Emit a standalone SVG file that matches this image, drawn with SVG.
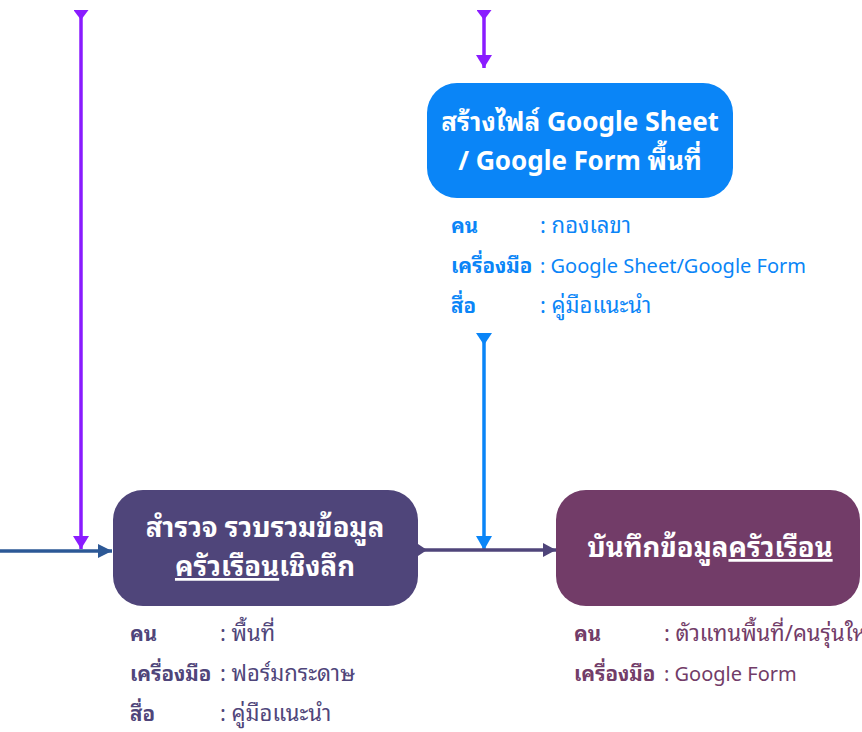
<svg xmlns="http://www.w3.org/2000/svg" width="862" height="732" viewBox="0 0 862 732">
<style>
text{font-family:"Noto Sans Thai Looped","Noto Sans Thai","Noto Sans","DejaVu Sans",sans-serif}
.title{font-size:26px;font-weight:bold;fill:#ffffff;text-anchor:middle}
.th{font-size:27.5px}
.lbl{font-size:20.5px;font-weight:bold}
.val{font-size:20px}
.vth{font-size:22px}
.u{text-decoration:underline}
.blue{fill:#0A85F7}
.plum{fill:#4F457A}
.wine{fill:#723C68}
</style>
<defs>
<marker id="endV" viewBox="0 -8 13 16" markerWidth="13" markerHeight="16" refX="13" refY="0" orient="auto" markerUnits="userSpaceOnUse"><path d="M0,-8 L13,0 L0,8 Z" fill="#8A1CFF"/></marker>
<marker id="startV" viewBox="0 -7.5 10 15" markerWidth="10" markerHeight="15" refX="0" refY="0" orient="auto" markerUnits="userSpaceOnUse"><path d="M0,-7.5 L10,0 L0,7.5 Z" fill="#8A1CFF"/></marker>
<marker id="endB" viewBox="0 -8 14 16" markerWidth="14" markerHeight="16" refX="14" refY="0" orient="auto" markerUnits="userSpaceOnUse"><path d="M0,-8 L14,0 L0,8 Z" fill="#0A85F7"/></marker>
<marker id="startB" viewBox="0 -8 12 16" markerWidth="12" markerHeight="16" refX="0" refY="0" orient="auto" markerUnits="userSpaceOnUse"><path d="M0,-8 L12,0 L0,8 Z" fill="#0A85F7"/></marker>
<marker id="endN" viewBox="0 -7 14 14" markerWidth="14" markerHeight="14" refX="14" refY="0" orient="auto" markerUnits="userSpaceOnUse"><path d="M0,-7 L14,0 L0,7 Z" fill="#2C5896"/></marker>
<marker id="endP" viewBox="0 -7 13 14" markerWidth="13" markerHeight="14" refX="13" refY="0" orient="auto" markerUnits="userSpaceOnUse"><path d="M0,-7 L13,0 L0,7 Z" fill="#4F457A"/></marker>
<marker id="startP" viewBox="0 -6 9 12" markerWidth="9" markerHeight="12" refX="0" refY="0" orient="auto" markerUnits="userSpaceOnUse"><path d="M0,-6 L9,0 L0,6 Z" fill="#4F457A"/></marker>
</defs>

<g id="connectors" fill="none">
<path d="M81,10 L81,549" stroke="#8A1CFF" stroke-width="3.5" marker-start="url(#startV)" marker-end="url(#endV)"/>
<path d="M484,10 L484,68" stroke="#8A1CFF" stroke-width="3.5" marker-start="url(#startV)" marker-end="url(#endV)"/>
<path d="M484,333 L484,550" stroke="#0A85F7" stroke-width="3.5" marker-start="url(#startB)" marker-end="url(#endB)"/>
<path d="M0,551 L112,551" stroke="#2C5896" stroke-width="3.5" marker-end="url(#endN)"/>
<path d="M418,550 L556,550" stroke="#4F457A" stroke-width="3.5" marker-start="url(#startP)" marker-end="url(#endP)"/>
</g>

<g id="node-create-file">
<rect x="427" y="83" width="306" height="115" rx="30" fill="#0A85F7"/>
<text class="title" x="580" y="131">สร้างไฟล์ Google Sheet</text>
<text class="title" x="580" y="170">/ Google Form พื้นที่</text>
<text class="lbl blue" x="451" y="233">คน</text>
<text class="val vth blue" x="540" y="233">: กองเลขา</text>
<text class="lbl blue" x="451" y="273">เครื่องมือ</text>
<text class="val blue" x="540" y="273">: Google Sheet/Google Form</text>
<text class="lbl blue" x="451" y="313">สื่อ</text>
<text class="val vth blue" x="540" y="313">: คู่มือแนะนำ</text>
</g>

<g id="node-survey">
<rect x="113" y="490" width="305" height="116" rx="30" fill="#4F457A"/>
<text class="title th" x="265" y="537">สำรวจ รวบรวมข้อมูล</text>
<text class="title th" x="265" y="576"><tspan class="u">ครัวเรือน</tspan>เชิงลึก</text>
<text class="lbl plum" x="130" y="641">คน</text>
<text class="val vth plum" x="220" y="641">: พื้นที่</text>
<text class="lbl plum" x="130" y="681">เครื่องมือ</text>
<text class="val vth plum" x="220" y="681">: ฟอร์มกระดาษ</text>
<text class="lbl plum" x="130" y="721">สื่อ</text>
<text class="val vth plum" x="220" y="721">: คู่มือแนะนำ</text>
</g>

<g id="node-record">
<rect x="556" y="490" width="304" height="116" rx="30" fill="#723C68"/>
<text class="title th" x="710" y="557">บันทึกข้อมูล<tspan class="u">ครัวเรือน</tspan></text>
<text class="lbl wine" x="574" y="641">คน</text>
<text class="val vth wine" x="664" y="641">: ตัวแทนพื้นที่/คนรุ่นใหม่</text>
<text class="lbl wine" x="574" y="681">เครื่องมือ</text>
<text class="val wine" x="664" y="681">: Google Form</text>
</g>
</svg>
